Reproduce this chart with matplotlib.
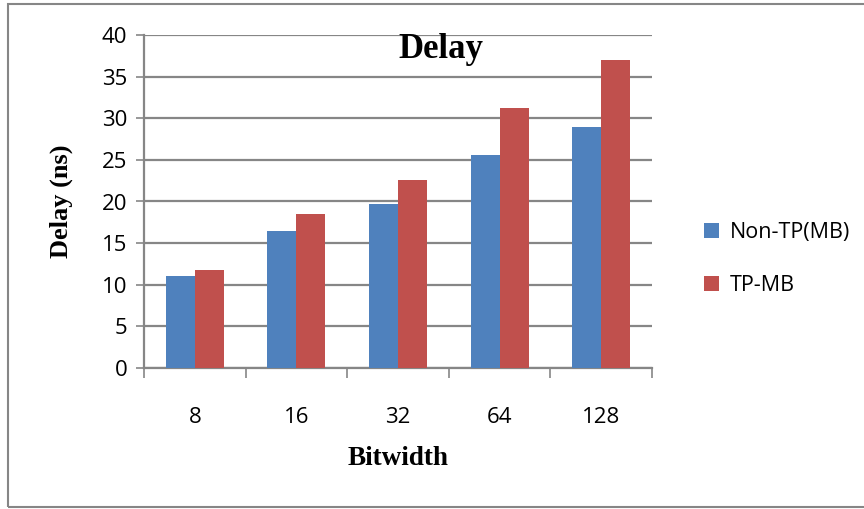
import matplotlib
matplotlib.use("Agg")
import matplotlib.pyplot as plt
import numpy as np
from matplotlib.patches import Rectangle

# delay per bitwidth, ns
bitwidths = ["8", "16", "32", "64", "128"]
non_tp = [11.0, 16.5, 19.7, 25.6, 29.0]
tp_mb = [11.8, 18.5, 22.6, 31.2, 37.0]

blue = "#4F81BD"
red = "#C0504D"
grey = "#868686"

fig = plt.figure(figsize=(8.64, 5.09), dpi=100)
ax = fig.add_axes([144 / 864, 1 - 368 / 509, 508 / 864, 333 / 509])

x = np.arange(len(bitwidths))
w = 1 / 3.5  # excel style gap width 150%
ax.bar(x - w / 2, non_tp, w, color=blue, label="Non-TP(MB)", zorder=3)
ax.bar(x + w / 2, tp_mb, w, color=red, label="TP-MB", zorder=3)

ax.set_xlim(-0.5, len(bitwidths) - 0.5)
ax.set_ylim(0, 40)
ax.set_yticks(range(0, 41, 5))
ax.yaxis.grid(True, color=grey, linewidth=1.6, zorder=0)
ax.set_axisbelow(True)

# category boundaries carry tick marks, centers carry labels
ax.set_xticks(np.arange(-0.5, len(bitwidths)), labels=[""] * (len(bitwidths) + 1))
ax.set_xticks(x, labels=bitwidths, minor=True)
ax.tick_params(axis="x", which="major", length=7, width=1.2, color=grey, direction="out")
ax.tick_params(axis="x", which="minor", length=0, pad=28)
ax.tick_params(axis="y", length=6, width=1.2, color=grey, pad=6)

for lab in ax.get_xticklabels(minor=True) + ax.get_yticklabels():
    lab.set_fontfamily("Open Sans")
    lab.set_fontsize(16)

for side in ["top", "right"]:
    ax.spines[side].set_visible(False)
for side in ["left", "bottom"]:
    ax.spines[side].set_color(grey)
    ax.spines[side].set_linewidth(1.6)

ax.text(0.585, 0.955, "Delay", transform=ax.transAxes, ha="center", va="center",
        fontfamily="Liberation Serif", fontweight="bold", fontsize=25)
ax.set_ylabel("Delay (ns)", fontfamily="Liberation Serif", fontweight="bold",
              fontsize=19, labelpad=21)
ax.set_xlabel("Bitwidth", fontfamily="Liberation Serif", fontweight="bold",
              fontsize=19.5, labelpad=13)

leg = fig.legend(loc="center left", bbox_to_anchor=(685 / 864, 1 - 259 / 509),
                 frameon=False, prop={"family": "Open Sans", "size": 15.5},
                 handlelength=0.7, handleheight=0.7, handletextpad=0.5,
                 labelspacing=1.45)

# outer chart border
fig.patches.append(Rectangle((8 / 864, 2 / 509), 1.0, 503 / 509, transform=fig.transFigure,
                             fill=False, edgecolor=grey, linewidth=1.5))

fig.savefig("out.png", dpi=100)
